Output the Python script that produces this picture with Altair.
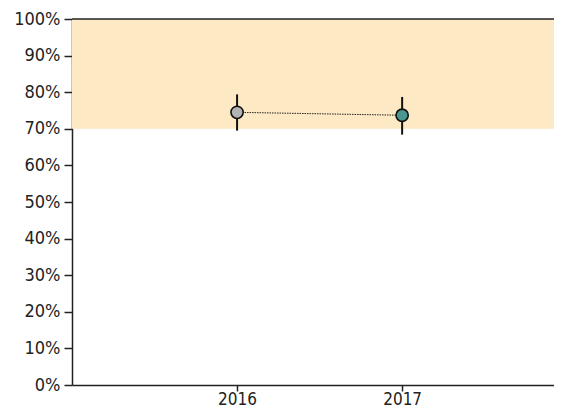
import altair as alt
import pandas as pd

years = [2016, 2017]
values = [0.745, 0.737]
lower = [0.695, 0.684]
upper = [0.794, 0.787]
colors = ["#b3b3b3", "#4a9690"]
band_low = [0.70]
band_high = [1.00]
y_ticks = [0.0, 0.1, 0.2, 0.3, 0.4, 0.5, 0.6, 0.7, 0.8, 0.9, 1.0]

df = pd.DataFrame({"year": years, "value": values, "lo": lower, "hi": upper, "color": colors})
band = pd.DataFrame({"lo": band_low, "hi": band_high})

FONT = "DejaVu Sans Condensed, DejaVu Sans"
W, H = 482, 366

xscale = alt.Scale(domain=[2015, 2017.92], nice=False)
yscale = alt.Scale(domain=[0, 1], nice=False)

xaxis = alt.Axis(values=years, format="d", title=None, grid=False, labelFont=FONT,
                 labelFontSize=17, labelColor="#222", domainColor="#222", tickColor="#222",
                 tickSize=6, labelPadding=0, domainWidth=1.5, tickWidth=1.5, labelOverlap=False)
yaxis = alt.Axis(values=y_ticks, format=".0%", title=None, grid=False,
                 labelFont=FONT, labelFontSize=18, labelColor="#222", domainColor="#222",
                 tickColor="#222", tickSize=8, labelPadding=4, domainWidth=1.5, tickWidth=1.5,
                 labelOverlap=False, tickCount=11)

band_layer = alt.Chart(band).mark_rect(color="#fde9c4").encode(
    y=alt.Y("lo:Q", scale=yscale, axis=yaxis),
    y2="hi:Q",
    x=alt.value(0),
    x2=alt.value(W),
)

top_rule = alt.Chart(band).mark_rule(color="#222", strokeWidth=1.5).encode(
    y=alt.Y("hi:Q", scale=yscale, axis=yaxis),
    x=alt.value(0),
    x2=alt.value(W),
)

line = alt.Chart(df).mark_line(color="#222", strokeWidth=1, strokeDash=[1.5, 1]).encode(
    x=alt.X("year:Q", scale=xscale, axis=xaxis),
    y=alt.Y("value:Q", scale=yscale, axis=yaxis),
)

err = alt.Chart(df).mark_rule(color="#111", strokeWidth=2).encode(
    x=alt.X("year:Q", scale=xscale, axis=xaxis),
    y=alt.Y("lo:Q", scale=yscale, axis=yaxis),
    y2="hi:Q",
)

pts = alt.Chart(df).mark_point(filled=True, size=150, stroke="#111", strokeWidth=1.6, opacity=1).encode(
    x=alt.X("year:Q", scale=xscale, axis=xaxis),
    y=alt.Y("value:Q", scale=yscale, axis=yaxis),
    fill=alt.Fill("color:N", scale=None),
)

chart = alt.layer(band_layer, top_rule, line, err, pts).properties(
    width=W, height=H,
    autosize=alt.AutoSizeParams(type="none"),
    padding={"left": 64, "top": 11, "right": 0, "bottom": 26},
).configure_view(stroke=None).configure(background="white")

chart.save("out.html", embed_options={"renderer": "svg", "actions": False})
